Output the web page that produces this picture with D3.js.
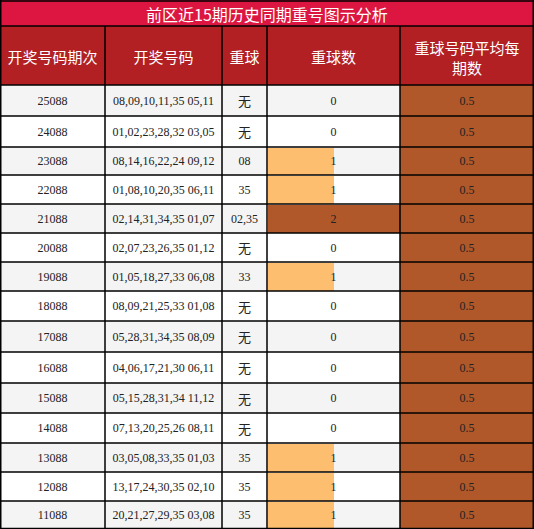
<!DOCTYPE html>
<html><head><meta charset="utf-8">
<script src="https://cdn.jsdelivr.net/npm/d3@7"></script>
<style>body{margin:0;background:#fff}</style>
</head><body><div id="chart"></div>
<script>
const headers = ["开奖号码期次", "开奖号码", "重球", "重球数", "重球号码平均每期数"];
const periods = ["25088","24088","23088","22088","21088","20088","19088","18088","17088","16088","15088","14088","13088","12088","11088"];
const draws = ["08,09,10,11,35 05,11","01,02,23,28,32 03,05","08,14,16,22,24 09,12","01,08,10,20,35 06,11","02,14,31,34,35 01,07","02,07,23,26,35 01,12","01,05,18,27,33 06,08","08,09,21,25,33 01,08","05,28,31,34,35 08,09","04,06,17,21,30 06,11","05,15,28,31,34 11,12","07,13,20,25,26 08,11","03,05,08,33,35 01,03","13,17,24,30,35 02,10","20,21,27,29,35 03,08"];
const repeats = ["无","无","08","35","02,35","无","33","无","无","无","无","无","35","35","35"];
const counts = [0,0,1,1,2,0,1,0,0,0,0,0,1,1,1];
const avg = 0.5;
const rowEdges = [85,116,147,175,204,233,262,291,321,352,383,413,443,472,501,529];
const colEdges = [0,105,222,267,400,534];

const W = 534, H = 529;
const svg = d3.select("#chart").append("svg").attr("width", W).attr("height", H);
const sans = "'Noto Sans CJK SC', sans-serif", serif = "'Liberation Serif', serif";

svg.append("rect").attr("x",0).attr("y",0).attr("width",W).attr("height",26).attr("fill","#dc1640");
svg.append("text").attr("x",W/2).attr("y",14).attr("text-anchor","middle").attr("dominant-baseline","central")
  .attr("fill","#fff").attr("font-family",sans).attr("font-size",16).text("前区近15期历史同期重号图示分析");

svg.append("rect").attr("x",0).attr("y",26).attr("width",W).attr("height",59).attr("fill","#b22024");
headers.forEach((h,i)=>{
  const cx = (colEdges[i]+colEdges[i+1])/2;
  const t = svg.append("text").attr("text-anchor","middle").attr("fill","#fff").attr("font-family",sans).attr("font-size",15);
  if (i===4) {
    t.append("tspan").attr("x",cx).attr("y",54).text("重球号码平均每");
    t.append("tspan").attr("x",cx).attr("y",74).text("期数");
  } else t.attr("x",cx).attr("y",56).attr("dominant-baseline","central").text(h);
});

const x = d3.scaleLinear().domain([0,2]).range([colEdges[3]+1, colEdges[4]]);
const color = v => v >= 2 ? "#b0582a" : "#fdbf6f";

periods.forEach((p,i)=>{
  const y0 = rowEdges[i], y1 = rowEdges[i+1], cy = (y0+y1)/2;
  svg.append("rect").attr("x",0).attr("y",y0).attr("width",colEdges[4]).attr("height",y1-y0).attr("fill", i%2===0?"#f4f4f4":"#fff");
  if (counts[i]>0) svg.append("rect").attr("x",x(0)).attr("y",y0+1).attr("width",x(counts[i])-x(0)).attr("height",y1-y0-1).attr("fill",color(counts[i]));
  svg.append("rect").attr("x",colEdges[4]).attr("y",y0).attr("width",W-colEdges[4]).attr("height",y1-y0).attr("fill","#b0582a");
  const vals = [p, draws[i], repeats[i], counts[i], avg];
  vals.forEach((v,j)=>{
    svg.append("text").attr("x",(colEdges[j]+colEdges[j+1])/2).attr("y",cy).attr("text-anchor","middle")
      .attr("dominant-baseline","central").attr("fill","#222")
      .attr("font-family", v==="无" ? sans : serif).attr("font-size", v==="无"?13:12).text(v);
  });
});

// grid lines
const g = svg.append("g").attr("stroke","#000").attr("stroke-width",1.5);
rowEdges.concat([26]).forEach(y=>g.append("line").attr("x1",0).attr("x2",W).attr("y1",y).attr("y2",y));
g.append("line").attr("x1",0).attr("x2",W).attr("y1",1).attr("y2",1);
g.append("line").attr("x1",0).attr("x2",W).attr("y1",H-0.5).attr("y2",H-0.5);
colEdges.forEach((c,i)=>{
  const cx = i===0?0.75:(i===colEdges.length-1?W-0.75:c);
  g.append("line").attr("x1",cx).attr("x2",cx).attr("y1", i===0||i===colEdges.length-1?0:26).attr("y2",H);
});
</script></body></html>
